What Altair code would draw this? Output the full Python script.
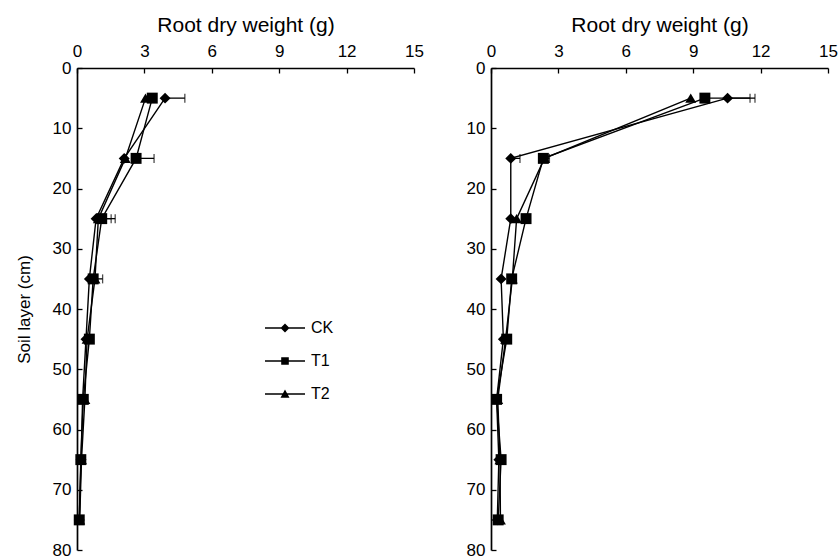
import altair as alt
import pandas as pd

depths = [5, 15, 25, 35, 45, 55, 65, 75]
series_names = ["CK", "T1", "T2"]

left_CK = [3.92, 2.10, 0.85, 0.55, 0.40, 0.25, 0.18, 0.10]
left_T1 = [3.35, 2.63, 1.10, 0.72, 0.55, 0.28, 0.17, 0.10]
left_T2 = [3.05, 2.15, 0.95, 0.80, 0.45, 0.35, 0.20, 0.12]

right_CK = [10.53, 0.88, 0.88, 0.45, 0.55, 0.25, 0.35, 0.28]
right_T1 = [9.52, 2.33, 1.56, 0.92, 0.70, 0.25, 0.45, 0.32]
right_T2 = [8.89, 2.38, 1.14, 0.95, 0.65, 0.30, 0.40, 0.42]

# visible one-sided error bars: panel, series, depth, upper end
err_panel = ["left", "left", "left", "left", "left", "right", "right", "right", "right"]
err_series = ["CK", "T1", "CK", "T1", "CK", "CK", "T1", "CK", "T1"]
err_depth = [5, 15, 25, 25, 35, 5, 5, 15, 15]
err_upper = [4.80, 3.43, 1.70, 1.52, 1.14, 11.75, 11.53, 1.29, 2.60]

x_ticks = [0, 3, 6, 9, 12, 15]
y_ticks = [0, 10, 20, 30, 40, 50, 60, 70, 80]

x_title = "Root dry weight (g)"
y_title = "Soil layer (cm)"

panel_values = {
    "left": {"CK": left_CK, "T1": left_T1, "T2": left_T2},
    "right": {"CK": right_CK, "T1": right_T1, "T2": right_T2},
}

rows = []
for p, sv in panel_values.items():
    for s in series_names:
        for d, v in zip(depths, sv[s]):
            rows.append({"panel": p, "series": s, "depth": d, "value": v})
df = pd.DataFrame(rows)

erows = []
for p, s, d, u in zip(err_panel, err_series, err_depth, err_upper):
    v = panel_values[p][s][depths.index(d)]
    erows.append({"panel": p, "series": s, "depth": d, "value": v, "upper": u})
edf = pd.DataFrame(erows)

marker_shapes = ["diamond", "square", "triangle-up"]
LINE = "M-2,-0.065L2,-0.065L2,0.065L-2,0.065Z"
legend_paths = [
    LINE + "M0,-0.45L0.45,0L0,0.45L-0.45,0Z",
    LINE + "M-0.38,-0.38L0.38,-0.38L0.38,0.38L-0.38,0.38Z",
    LINE + "M0,-0.45L0.45,0.38L-0.45,0.38Z",
]

PW, PH = 337, 482
FONT = "Liberation Sans"


def panel(name, show_ytitle, with_legend):
    d = df[df.panel == name]
    e = edf[edf.panel == name]
    xscale = alt.Scale(domain=[0, 15], nice=False, zero=False)
    yscale = alt.Scale(domain=[0, 80], nice=False, reverse=True)
    # main axes: domain + labels + titles
    xaxis = alt.Axis(orient="top", values=x_ticks, title=x_title, labelFlush=False,
                     ticks=False, labelPadding=8, titlePadding=7)
    if show_ytitle:
        yaxis = alt.Axis(orient="left", values=y_ticks, title=y_title, ticks=False,
                         labelPadding=6, titlePadding=19)
    else:
        yaxis = alt.Axis(orient="left", values=y_ticks, title=None, ticks=False,
                         labelPadding=6)
    # tick-only axes pulled inside the plot so that ticks point inward
    xtick_axis = alt.Axis(orient="top", values=x_ticks, title=None, labels=False,
                          domain=False, ticks=True, tickSize=5, offset=-5)
    ytick_axis = alt.Axis(orient="left", values=y_ticks, title=None, labels=False,
                          domain=False, ticks=True, tickSize=5, offset=-5)

    base = alt.Chart(d)
    lines = base.mark_line(color="black", strokeWidth=1.4).encode(
        x=alt.X("value:Q", scale=xscale, axis=xaxis),
        y=alt.Y("depth:Q", scale=yscale, axis=yaxis),
        detail="series:N", order=alt.Order("depth:Q"))
    ebase = alt.Chart(e)
    rules = ebase.mark_rule(color="black", strokeWidth=1.3).encode(
        x=alt.X("value:Q", scale=xscale, axis=None), x2="upper:Q",
        y=alt.Y("depth:Q", scale=yscale, axis=None))
    caps = ebase.mark_tick(color="black", orient="vertical", thickness=1.3, size=9).encode(
        x=alt.X("upper:Q", scale=xscale, axis=None),
        y=alt.Y("depth:Q", scale=yscale, axis=None))
    pts = base.mark_point(filled=True, color="black", opacity=1, size=120).encode(
        x=alt.X("value:Q", scale=xscale, axis=xtick_axis),
        y=alt.Y("depth:Q", scale=yscale, axis=ytick_axis),
        shape=alt.Shape("series:N", scale=alt.Scale(domain=series_names, range=marker_shapes),
                        legend=None))
    layers = [lines, rules, caps, pts]
    if with_legend:
        leg = base.mark_point(filled=True, color="black", opacity=0).encode(
            x=alt.X("value:Q", scale=xscale, axis=None),
            y=alt.Y("depth:Q", scale=yscale, axis=None),
            shape=alt.Shape("series:N",
                            scale=alt.Scale(domain=series_names, range=legend_paths),
                            legend=alt.Legend(orient="none", legendX=198, legendY=250,
                                              title=None, symbolSize=400, symbolOpacity=1,
                                              symbolFillColor="black",
                                              symbolStrokeWidth=0,
                                              labelFontSize=16, labelFont=FONT,
                                              labelColor="black", labelOffset=16,
                                              rowPadding=15)))
        layers.append(leg)
    return alt.layer(*layers).resolve_scale(shape="independent").resolve_axis(
        x="independent", y="independent").properties(width=PW, height=PH)


chart = alt.hconcat(
    panel("left", True, True),
    panel("right", False, False),
    spacing=42,
).resolve_scale(shape="independent").properties(
    padding={"left": 15, "top": 14, "right": 0, "bottom": 0}
).configure_view(stroke=None).configure_axis(
    grid=False, domainColor="black", domainWidth=1.7, tickColor="black", tickWidth=1.3,
    labelColor="black", titleColor="black", labelFont=FONT, titleFont=FONT,
    labelFontSize=17, titleFontSize=21, titleFontWeight="normal",
).configure_axisY(titleFontSize=17)

chart.save("out.html", embed_options={"renderer": "svg", "actions": False})
